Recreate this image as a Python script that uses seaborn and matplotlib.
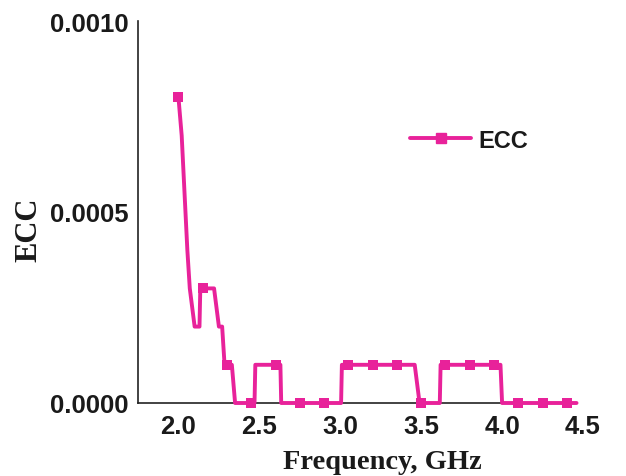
import matplotlib
matplotlib.use("Agg")
import matplotlib.pyplot as plt
from matplotlib.lines import Line2D
import seaborn as sns
import pandas as pd

# ECC trace (frequency in GHz)
freq = [2.00, 2.02, 2.055, 2.07, 2.10, 2.13, 2.135, 2.15, 2.22, 2.25, 2.27,
        2.285, 2.30, 2.33, 2.35, 2.45, 2.47, 2.475, 2.60, 2.63, 2.635, 2.75,
        2.90, 3.005, 3.01, 3.05, 3.20, 3.35, 3.46, 3.49, 3.50, 3.615, 3.62,
        3.65, 3.80, 3.95, 3.99, 4.00, 4.10, 4.25, 4.40, 4.46]
ecc = [0.0008, 0.0007, 0.0004, 0.0003, 0.0002, 0.0002, 0.0003, 0.0003, 0.0003,
       0.0002, 0.0002, 0.0001, 0.0001, 0.0001, 0.0, 0.0, 0.0, 0.0001, 0.0001,
       0.0001, 0.0, 0.0, 0.0, 0.0, 0.0001, 0.0001, 0.0001, 0.0001, 0.0001, 0.0,
       0.0, 0.0, 0.0001, 0.0001, 0.0001, 0.0001, 0.0001, 0.0, 0.0, 0.0, 0.0, 0.0]

# marked sample points
mark_freq = [2.00, 2.15, 2.30, 2.45, 2.60, 2.75, 2.90, 3.05, 3.20, 3.35, 3.50,
             3.65, 3.80, 3.95, 4.10, 4.25, 4.40]
mark_ecc = [0.0008, 0.0003, 0.0001, 0.0, 0.0001, 0.0, 0.0, 0.0001, 0.0001,
            0.0001, 0.0, 0.0001, 0.0001, 0.0001, 0.0, 0.0, 0.0]

x_ticks = [2.0, 2.5, 3.0, 3.5, 4.0, 4.5]
y_ticks = [0.0, 0.0005, 0.0010]

color = "#E8229A"

sns.set_theme(style="white")
plt.rcParams["font.family"] = ["Liberation Sans", "DejaVu Sans"]

fig = plt.figure(figsize=(6.26, 4.77), dpi=100)
ax = fig.add_axes([138 / 626, 1 - 404 / 477, 445 / 626, 382 / 477])

line_df = pd.DataFrame({"freq": freq, "ecc": ecc})
mark_df = pd.DataFrame({"freq": mark_freq, "ecc": mark_ecc})

sns.lineplot(data=line_df, x="freq", y="ecc", estimator=None, sort=False,
             color=color, linewidth=2.8, ax=ax, clip_on=False, zorder=3)
sns.scatterplot(data=mark_df, x="freq", y="ecc", marker="s", s=60,
                color=color, linewidth=0, ax=ax, clip_on=False, zorder=4)

ax.set_xlim(1.75, 4.5)
ax.set_ylim(0, 0.001)
ax.set_xticks(x_ticks)
ax.set_xticklabels([f"{v:.1f}" for v in x_ticks])
ax.set_yticks(y_ticks)
ax.set_yticklabels([f"{v:.4f}" for v in y_ticks])

for lab in ax.get_xticklabels() + ax.get_yticklabels():
    lab.set_fontweight("bold")
    lab.set_fontsize(18.5)
    lab.set_color("#1a1a1a")
ax.tick_params(axis="x", length=0, pad=8)
ax.tick_params(axis="y", length=0, pad=7)

for side in ("top", "right"):
    ax.spines[side].set_visible(False)
for side in ("left", "bottom"):
    ax.spines[side].set_color("#222222")
    ax.spines[side].set_linewidth(1.2)
ax.spines["bottom"].set_bounds(1.75, 4.46)
ax.spines["left"].set_bounds(0, 0.001)

ax.set_xlabel("Frequency, GHz", family=["Liberation Serif", "DejaVu Serif"],
              fontweight="bold", fontsize=20.5, color="#1a1a1a")
ax.set_ylabel("ECC", family=["Liberation Serif", "DejaVu Serif"],
              fontweight="bold", fontsize=22, color="#1a1a1a")
ax.xaxis.set_label_coords(0.55, -0.12)
ax.yaxis.set_label_coords(-0.213, 0.455)

handle = Line2D([], [], color=color, linewidth=2.8, marker="s", markersize=7.5)
leg = ax.legend([handle], ["ECC"], loc="center left",
                bbox_to_anchor=(0.611, 0.688), frameon=False, borderpad=0,
                borderaxespad=0, handlelength=2.6, handletextpad=0.3,
                prop={"family": ["Liberation Sans"], "weight": "bold", "size": 17})
for t in leg.get_texts():
    t.set_color("#1a1a1a")

fig.savefig("out.png", dpi=100)
